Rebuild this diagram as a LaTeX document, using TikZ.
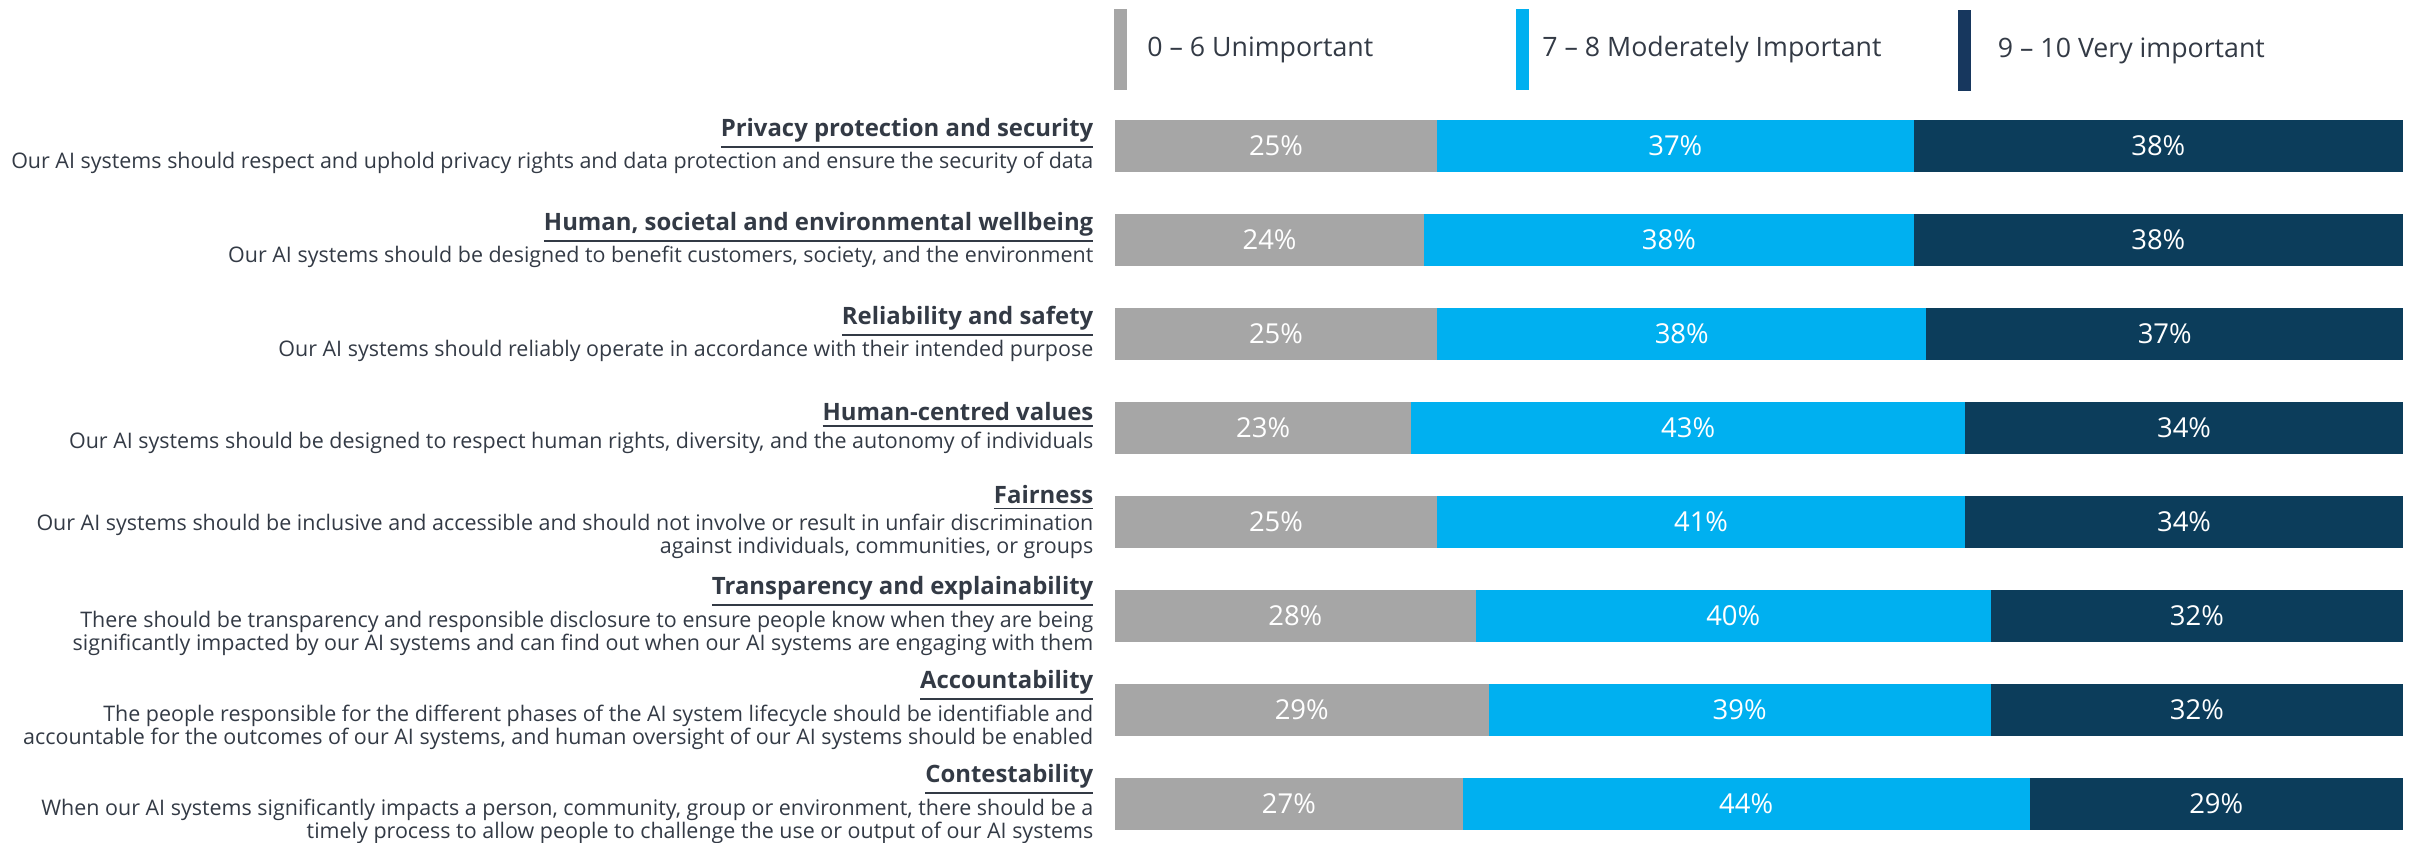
\documentclass[tikz,border=0pt]{standalone}
\usepackage{fontspec}
\setmainfont{Open Sans}
\usepackage{tikz}
\usetikzlibrary{positioning}
\definecolor{lowgray}{HTML}{A6A6A6}
\definecolor{midblue}{HTML}{00B0F0}
\definecolor{topnavy}{HTML}{0C3D5B}
\definecolor{legnavy}{HTML}{17375E}
\definecolor{txtgray}{HTML}{333A45}
\tikzstyle{pct} = [text=white, font=\fontsize{7.8}{9.4}\selectfont, inner sep=0pt]
\tikzstyle{keybar} = [minimum width=0.13cm, minimum height=0.81cm, inner sep=0pt]
\tikzstyle{legtext} = [text=txtgray, font=\fontsize{7.6}{9.2}\selectfont, inner sep=0pt]
\tikzstyle{statement} = [anchor=east, align=right, text=txtgray, inner sep=0pt, font=\fontsize{6.1}{6.7}\selectfont]
\newcommand{\heading}[1]{{\fontsize{6.8}{7.8}\selectfont\bfseries\underline{#1}}}

\begin{document}
\begin{tikzpicture}[x=0.01cm, y=-0.01cm]
      \useasboundingbox (0,0) rectangle (2410,842);

      % legend
      \node (keylow) [keybar, fill=lowgray] at (1120.5,49.5) {};
      \node (keymid) [keybar, fill=midblue] at (1522.5,49.5) {};
      \node (keytop) [keybar, fill=legnavy] at (1964,50.5) {};
      \node (leglow) [legtext, right=0.19cm of keylow] {0 – 6 Unimportant};
      \node (legmid) [legtext, right=0.12cm of keymid] {7 – 8 Moderately Important};
      \node (legtop) [legtext, right=0.26cm of keytop] {9 – 10 Very important};

      % bars
      \foreach \row/\lo/\mi/\hi in {1/25/37/38, 2/24/38/38, 3/25/38/37, 4/23/43/34,
                                    5/25/41/34, 6/28/40/32, 7/29/39/32, 8/27/44/29} {
        \pgfmathsetmacro\yc{146+94*(\row-1)}
        \pgfmathsetmacro\xa{1115+12.88*\lo}
        \pgfmathsetmacro\xb{\xa+12.88*\mi}
        \fill [lowgray] (1115,\yc-26) rectangle (\xa,\yc+26);
        \fill [midblue] (\xa,\yc-26) rectangle (\xb,\yc+26);
        \fill [topnavy] (\xb,\yc-26) rectangle (2403,\yc+26);
        \node [pct] (lo\row) at ({(1115+\xa)/2},\yc) {\lo\%};
        \node [pct] (mi\row) at ({(\xa+\xb)/2},\yc) {\mi\%};
        \node [pct] (hi\row) at ({(\xb+2403)/2},\yc) {\hi\%};
      }

      % statements
      \node [statement] (lab1) at (1094,146) {\heading{Privacy protection and security}\\Our AI systems should respect and uphold privacy rights and data protection and ensure the security of data};
      \node [statement] (lab2) at (1094,240) {\heading{Human, societal and environmental wellbeing}\\Our AI systems should be designed to benefit customers, society, and the environment};
      \node [statement] (lab3) at (1094,334) {\heading{Reliability and safety}\\Our AI systems should reliably operate in accordance with their intended purpose};
      \node [statement] (lab4) at (1094,428) {\heading{Human-centred values}\\Our AI systems should be designed to respect human rights, diversity, and the autonomy of individuals};
      \node [statement] (lab5) at (1094,522) {\heading{Fairness}\\Our AI systems should be inclusive and accessible and should not involve or result in unfair discrimination\\against individuals, communities, or groups};
      \node [statement] (lab6) at (1094,616) {\heading{Transparency and explainability}\\There should be transparency and responsible disclosure to ensure people know when they are being\\significantly impacted by our AI systems and can find out when our AI systems are engaging with them};
      \node [statement] (lab7) at (1094,710) {\heading{Accountability}\\The people responsible for the different phases of the AI system lifecycle should be identifiable and\\accountable for the outcomes of our AI systems, and human oversight of our AI systems should be enabled};
      \node [statement] (lab8) at (1094,804) {\heading{Contestability}\\When our AI systems significantly impacts a person, community, group or environment, there should be a\\timely process to allow people to challenge the use or output of our AI systems};
\end{tikzpicture}
\end{document}
